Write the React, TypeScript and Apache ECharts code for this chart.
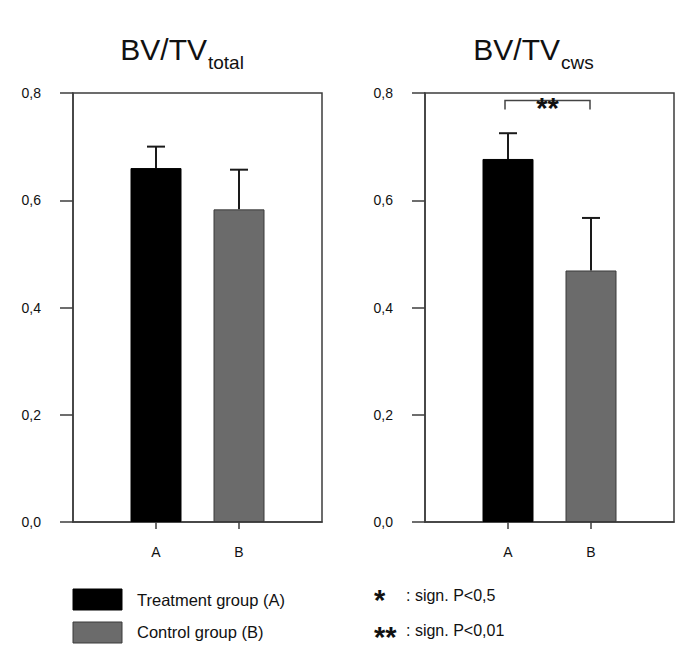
import React, { useEffect, useRef } from 'react';
import * as echarts from 'echarts';

const categories = ['', 'A', 'B', ''];
const groups = ['A', 'B'];
const totalMeans = [0.66, 0.583];
const totalErrTop = [0.7, 0.657];
const cwsMeans = [0.677, 0.469];
const cwsErrTop = [0.725, 0.567];
const yMin = 0;
const yMax = 0.8;
const yInterval = 0.2;
const panelTitles = [
  { main: 'BV/TV', sub: 'total' },
  { main: 'BV/TV', sub: 'cws' },
];
const legendLabels = ['Treatment group (A)', 'Control group (B)'];
const sigLegendMarks = ['*', '**'];
const sigLegendTexts = [': sign. P<0,5', ': sign. P<0,01'];
const sigBracketFrom = 'A';
const sigBracketTo = 'B';
const sigBracketLevel = 0.786;
const sigBracketMark = '**';
const barColors = ['#000000', '#6b6b6b'];

const FONT = '"Liberation Sans", Arial, Helvetica, sans-serif';
const LINE = '#3c3c3c';

const errRender = (params: any, api: any) => {
  const x = api.value(0);
  const base = api.coord([x, api.value(1)]);
  const top = api.coord([x, api.value(2)]);
  const half = 9;
  return {
    type: 'group',
    children: [
      { type: 'line', shape: { x1: base[0], y1: base[1], x2: top[0], y2: top[1] }, style: { stroke: '#1a1a1a', lineWidth: 2 } },
      { type: 'line', shape: { x1: top[0] - half, y1: top[1], x2: top[0] + half, y2: top[1] }, style: { stroke: '#1a1a1a', lineWidth: 2 } },
    ],
  };
};

const bracketRender = (params: any, api: any) => {
  const p1 = api.coord([api.value(0), api.value(2)]);
  const p2 = api.coord([api.value(1), api.value(2)]);
  const leg = 9;
  return {
    type: 'group',
    children: [
      {
        type: 'polyline',
        shape: { points: [[p1[0] - 3, p1[1] + leg], [p1[0] - 3, p1[1]], [p2[0] - 1, p2[1]], [p2[0] - 1, p2[1] + leg]] },
        style: { stroke: '#444', lineWidth: 1.5, fill: 'none' },
      },
      {
        type: 'text',
        x: (p1[0] + p2[0]) / 2 - 2,
        y: p1[1] + 7,
        style: { text: sigBracketMark, fontSize: 29, fontWeight: 'bold', fontFamily: FONT, align: 'center', verticalAlign: 'middle', fill: '#111' },
      },
    ],
  };
};

export default function App() {
  const ref = useRef<HTMLDivElement>(null);
  useEffect(() => {
    if (!ref.current) return;
    const chart = echarts.init(ref.current, null, { renderer: 'svg' });
    const grids = [
      { left: 73, top: 93, width: 249, height: 429 },
      { left: 425, top: 93, width: 249, height: 429 },
    ];
    const showIdx = (i: number) => i === 1 || i === 2;
    const xAxes = grids.map((g, i) => ({
      type: 'category',
      gridIndex: i,
      data: categories,
      boundaryGap: false,
      axisLine: { show: true, lineStyle: { color: LINE, width: 1.5 } },
      axisTick: { show: true, interval: (idx: number) => showIdx(idx), length: 7, lineStyle: { color: LINE, width: 1.5 } },
      axisLabel: { interval: (idx: number) => showIdx(idx), margin: 23, fontSize: 14, color: '#111', fontFamily: FONT },
      splitLine: { show: false },
    }));
    const yAxes = grids.map((g, i) => ({
      type: 'value',
      gridIndex: i,
      min: yMin,
      max: yMax,
      interval: yInterval,
      axisLine: { show: true, lineStyle: { color: LINE, width: 1.5 } },
      axisTick: { show: true, length: 13, lineStyle: { color: LINE, width: 1.5 } },
      axisLabel: {
        margin: 32,
        fontSize: 14,
        color: '#111',
        fontFamily: FONT,
        formatter: (v: number) => v.toFixed(1).replace('.', ','),
      },
      splitLine: { show: false },
    }));
    const panels = [
      { means: totalMeans, errs: totalErrTop },
      { means: cwsMeans, errs: cwsErrTop },
    ];
    const series: any[] = [];
    panels.forEach((p, i) => {
      series.push({
        type: 'bar',
        xAxisIndex: i,
        yAxisIndex: i,
        barWidth: 51,
        data: groups.map((g, j) => ({
          value: [g, p.means[j]],
          itemStyle: { color: barColors[j], borderColor: j === 0 ? '#000' : '#3a3a3a', borderWidth: 1 },
        })),
        z: 2,
      });
      series.push({
        type: 'custom',
        xAxisIndex: i,
        yAxisIndex: i,
        renderItem: errRender,
        encode: { x: 0, y: [1, 2] },
        data: groups.map((g, j) => [categories.indexOf(g), p.means[j], p.errs[j]]),
        z: 3,
      });
    });
    series.push({
      type: 'custom',
      xAxisIndex: 1,
      yAxisIndex: 1,
      renderItem: bracketRender,
      encode: { x: [0, 1], y: 2 },
      data: [[categories.indexOf(sigBracketFrom), categories.indexOf(sigBracketTo), sigBracketLevel]],
      z: 4,
    });

    const titleX = [[207, 208], [560, 561]];
    const graphic: any[] = [];
    panelTitles.forEach((t, i) => {
      graphic.push({
        type: 'text', x: titleX[i][0], y: 49,
        style: { text: t.main, fontSize: 30, fontFamily: FONT, fill: '#111', align: 'right', verticalAlign: 'middle' },
      });
      graphic.push({
        type: 'text', x: titleX[i][1], y: 62,
        style: { text: t.sub, fontSize: 19, fontFamily: FONT, fill: '#111', align: 'left', verticalAlign: 'middle' },
      });
    });
    const legY = [589, 622];
    const legTextY = [600, 632];
    legendLabels.forEach((lab, j) => {
      graphic.push({
        type: 'rect', shape: { x: 73, y: legY[j], width: 49, height: 21 },
        style: { fill: barColors[j], stroke: j === 0 ? '#000' : '#3a3a3a', lineWidth: 1 },
      });
      graphic.push({
        type: 'text', x: 137, y: legTextY[j],
        style: { text: lab, fontSize: 16.5, fontFamily: FONT, fill: '#111', align: 'left', verticalAlign: 'middle' },
      });
    });
    const sigMarkY = [600, 637];
    const sigTextY = [595, 630];
    sigLegendMarks.forEach((m, j) => {
      graphic.push({
        type: 'text', x: 374, y: sigMarkY[j],
        style: { text: m, fontSize: 29, fontWeight: 'bold', fontFamily: FONT, fill: '#111', align: 'left', verticalAlign: 'middle' },
      });
      graphic.push({
        type: 'text', x: 406, y: sigTextY[j],
        style: { text: sigLegendTexts[j], fontSize: 16, fontFamily: FONT, fill: '#111', align: 'left', verticalAlign: 'middle' },
      });
    });

    chart.setOption({
      animation: false,
      backgroundColor: '#ffffff',
      grid: grids.map((g) => ({ ...g, show: true, borderColor: LINE, borderWidth: 1.5, backgroundColor: 'transparent' })),
      xAxis: xAxes,
      yAxis: yAxes,
      series,
      graphic,
    });
    return () => chart.dispose();
  }, []);
  return <div ref={ref} style={{ position: 'fixed', left: 0, top: 0, width: 696, height: 671 }} />;
}
